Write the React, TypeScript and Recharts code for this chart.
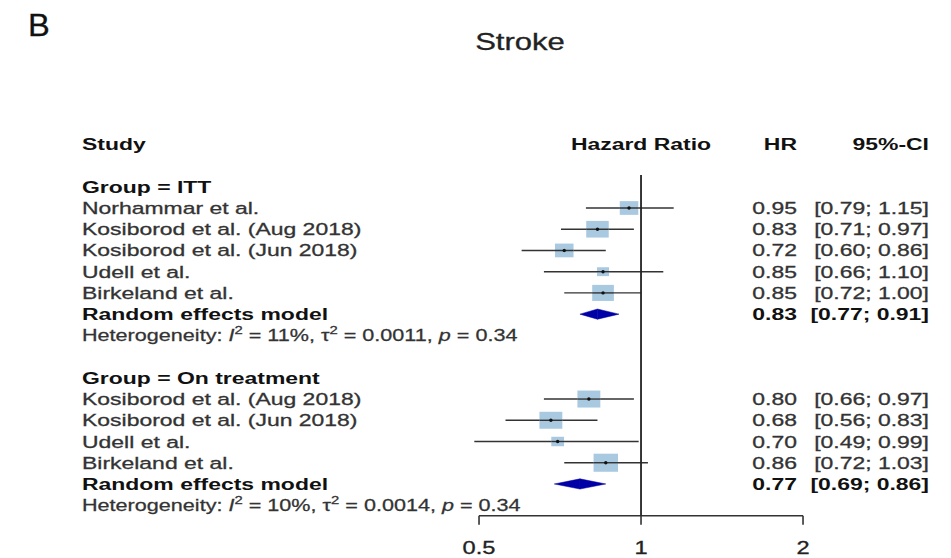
import React from "react";
import {
  ComposedChart,
  XAxis,
  YAxis,
  Scatter,
  ReferenceLine,
  ReferenceArea,
} from "recharts";

// ITT subgroup
const ittStudies = [
  "Norhammar et al.",
  "Kosiborod et al. (Aug 2018)",
  "Kosiborod et al. (Jun 2018)",
  "Udell et al.",
  "Birkeland et al.",
];
const ittHR = [0.95, 0.83, 0.72, 0.85, 0.85];
const ittLower = [0.79, 0.71, 0.6, 0.66, 0.72];
const ittUpper = [1.15, 0.97, 0.86, 1.1, 1.0];
const ittWeight = [19, 28, 19, 8, 26];
const ittPooled = [0.83, 0.77, 0.91]; // HR, lower, upper
const ittHet = [11, 0.0011, 0.34]; // I2 %, tau2, p

// On-treatment subgroup
const otStudies = [
  "Kosiborod et al. (Aug 2018)",
  "Kosiborod et al. (Jun 2018)",
  "Udell et al.",
  "Birkeland et al.",
];
const otHR = [0.8, 0.68, 0.7, 0.86];
const otLower = [0.66, 0.56, 0.49, 0.72];
const otUpper = [0.97, 0.83, 0.99, 1.03];
const otWeight = [29, 29, 9, 33];
const otPooled = [0.77, 0.69, 0.86];
const otHet = [10, 0.0014, 0.34];

const axisTicks = [0.5, 1, 2];

// layout
const W = 951;
const H = 558;
const SX = 1.35; // horizontal text stretch
const FONT = "'Liberation Sans', Arial, Helvetica, sans-serif";
const BOX = 3.15;
const REF_TOP = 1.45;
const LAST_ROW = 17;

type Row = {
  row: number;
  kind: "header" | "group" | "study" | "pooled" | "het";
  label?: string;
  hr?: number;
  lo?: number;
  hi?: number;
  w?: number;
  het?: number[];
};

function section(
  start: number,
  group: string,
  names: string[],
  hr: number[],
  lo: number[],
  hi: number[],
  w: number[],
  pooled: number[],
  het: number[]
): Row[] {
  const out: Row[] = [{ row: start, kind: "group", label: `Group = ${group}` }];
  names.forEach((n, i) =>
    out.push({ row: start + 1 + i, kind: "study", label: n, hr: hr[i], lo: lo[i], hi: hi[i], w: w[i] })
  );
  const p = start + 1 + names.length;
  out.push({ row: p, kind: "pooled", label: "Random effects model", hr: pooled[0], lo: pooled[1], hi: pooled[2] });
  out.push({ row: p + 1, kind: "het", het });
  return out;
}

const rows: Row[] = [
  { row: 0, kind: "header" },
  ...section(2, "ITT", ittStudies, ittHR, ittLower, ittUpper, ittWeight, ittPooled, ittHet),
  ...section(11, "On treatment", otStudies, otHR, otLower, otUpper, otWeight, otPooled, otHet),
];
const studyRows = rows.filter((r) => r.kind === "study");
const pooledRows = rows.filter((r) => r.kind === "pooled");

const fmt = (v: number) => v.toFixed(2);

function SText(props: {
  x: number;
  y: number;
  anchor?: "start" | "middle" | "end";
  bold?: boolean;
  size?: number;
  sx?: number;
  fill?: string;
  children: React.ReactNode;
}) {
  const { x, y, anchor = "start", bold, size = 17, sx = SX, fill, children } = props;
  const color = fill ?? (bold ? "#111" : "#333");
  return (
    <g transform={`translate(${x} ${y}) scale(${sx} 1)`}>
      <text
        x={0}
        y={0}
        textAnchor={anchor}
        fontFamily={FONT}
        fontSize={size}
        fontWeight={bold ? "bold" : "normal"}
        fill={color}
        stroke={bold ? "none" : color}
        strokeWidth={bold ? 0 : 0.3}
      >
        {children}
      </text>
    </g>
  );
}

const LABEL_X = 82;
const HR_X = 797;
const CI_X = 929;

function RowTick(props: any) {
  const { y, payload } = props;
  const r = rows.find((d) => d.row === payload.value);
  if (!r) return <g />;
  const base = y + 6;
  if (r.kind === "header") {
    return (
      <g>
        <SText x={LABEL_X} y={base} bold>Study</SText>
        <SText x={641} y={base} anchor="middle" bold>Hazard Ratio</SText>
        <SText x={HR_X} y={base} anchor="end" bold>HR</SText>
        <SText x={CI_X} y={base} anchor="end" bold>95%-CI</SText>
      </g>
    );
  }
  if (r.kind === "group") {
    return <SText x={LABEL_X} y={base} bold>{r.label}</SText>;
  }
  if (r.kind === "het") {
    const [i2, tau2, p] = r.het!;
    return (
      <g transform={`translate(${LABEL_X} ${y + 5.5}) scale(${SX} 1)`}>
        <text x={0} y={0} fontFamily={FONT} fontSize={16} fill="#333" stroke="#333" strokeWidth={0.25}>
          <tspan>Heterogeneity: </tspan>
          <tspan fontStyle="italic">I</tspan>
          <tspan dy={-7} fontSize={11}>2</tspan>
          <tspan dy={7}>{` = ${i2}%, `}</tspan>
          <tspan>τ</tspan>
          <tspan dy={-7} fontSize={11}>2</tspan>
          <tspan dy={7}>{` = ${tau2.toFixed(4)}, `}</tspan>
          <tspan fontStyle="italic">p</tspan>
          <tspan>{` = ${p.toFixed(2)}`}</tspan>
        </text>
      </g>
    );
  }
  const bold = r.kind === "pooled";
  return (
    <g>
      <SText x={LABEL_X} y={base} bold={bold}>{r.label}</SText>
      <SText x={HR_X} y={base} anchor="end" bold={bold}>{fmt(r.hr!)}</SText>
      <SText x={CI_X} y={base} anchor="end" bold={bold}>
        {`[${fmt(r.lo!)}; ${fmt(r.hi!)}]`}
      </SText>
    </g>
  );
}

function AxisTick(props: any) {
  const { x, y, payload } = props;
  return (
    <SText x={x} y={y + 27} anchor="middle" fill="#222" size={17.5}>
      {String(payload.value)}
    </SText>
  );
}

function StudyBox(props: any) {
  const { cx, cy, payload } = props;
  const h = BOX * Math.sqrt(payload.w);
  const w = h * SX;
  return (
    <g>
      <rect x={cx - w / 2} y={cy - h / 2} width={w} height={h} fill="#a9c9e1" />
      <line x1={cx - w / 2} x2={cx + w / 2} y1={cy} y2={cy} stroke="#333" strokeWidth={1.4} />
      <circle cx={cx} cy={cy} r={1.7} fill="#111" />
    </g>
  );
}

const DIAMOND = "#0000a6";

const leftHalf = (p: any) => (
  <polygon
    points={`${p.x},${p.y + p.height / 2} ${p.x + p.width},${p.y} ${p.x + p.width},${p.y + p.height}`}
    fill={DIAMOND}
    stroke={DIAMOND}
    strokeWidth={0.5}
  />
);
const rightHalf = (p: any) => (
  <polygon
    points={`${p.x},${p.y} ${p.x + p.width},${p.y + p.height / 2} ${p.x},${p.y + p.height}`}
    fill={DIAMOND}
    stroke={DIAMOND}
    strokeWidth={0.5}
  />
);

export default function App() {
  const rowTicks = rows.map((r) => r.row);
  return (
    <div style={{ position: "absolute", left: 0, top: 0, width: W, height: H, background: "#fff" }}>
      <svg width={W} height={60} style={{ position: "absolute", left: 0, top: 0 }}>
        <SText x={28} y={36} size={32} sx={1.02} fill="#111">B</SText>
        <SText x={520} y={50} anchor="middle" size={23} sx={1.35} fill="#222">Stroke</SText>
      </svg>
      <div style={{ position: "absolute", left: 0, top: 0 }}>
        <ComposedChart
          width={W}
          height={H}
          margin={{ top: 133.7, left: 453.4, right: 125.7, bottom: 2.2 }}
        >
          <XAxis
            type="number"
            dataKey="hr"
            scale="log"
            domain={[0.45, 2.2]}
            allowDataOverflow
            ticks={axisTicks}
            axisLine={false}
            tickLine={{ stroke: "#333", strokeWidth: 1.6 }}
            tickSize={9}
            height={40}
            tick={<AxisTick />}
            interval={0}
          />
          <YAxis
            type="number"
            dataKey="row"
            domain={[-0.5, LAST_ROW + 0.5]}
            reversed
            allowDataOverflow
            ticks={rowTicks}
            interval={0}
            width={1}
            axisLine={false}
            tickLine={false}
            tick={<RowTick />}
          />
          <ReferenceLine
            segment={[
              { x: axisTicks[0], y: LAST_ROW + 0.5 },
              { x: axisTicks[axisTicks.length - 1], y: LAST_ROW + 0.5 },
            ]}
            stroke="#333"
            strokeWidth={1.6}
            ifOverflow="visible"
          />
          <Scatter data={studyRows} shape={<StudyBox />} isAnimationActive={false} />
          {studyRows.map((r) => (
            <ReferenceLine
              key={`ci-${r.row}`}
              segment={[
                { x: r.lo, y: r.row },
                { x: r.hi, y: r.row },
              ]}
              stroke="#333"
              strokeWidth={1.4}
              ifOverflow="visible"
            />
          ))}
          {pooledRows.map((r) => (
            <ReferenceArea
              key={`dl-${r.row}`}
              x1={r.lo}
              x2={r.hr}
              y1={r.row - 0.24}
              y2={r.row + 0.24}
              shape={leftHalf}
              ifOverflow="visible"
            />
          ))}
          {pooledRows.map((r) => (
            <ReferenceArea
              key={`dr-${r.row}`}
              x1={r.hr}
              x2={r.hi}
              y1={r.row - 0.24}
              y2={r.row + 0.24}
              shape={rightHalf}
              ifOverflow="visible"
            />
          ))}
          <ReferenceLine
            segment={[
              { x: 1, y: REF_TOP },
              { x: 1, y: LAST_ROW + 0.5 },
            ]}
            stroke="#222"
            strokeWidth={1.8}
            ifOverflow="visible"
          />
        </ComposedChart>
      </div>
    </div>
  );
}
